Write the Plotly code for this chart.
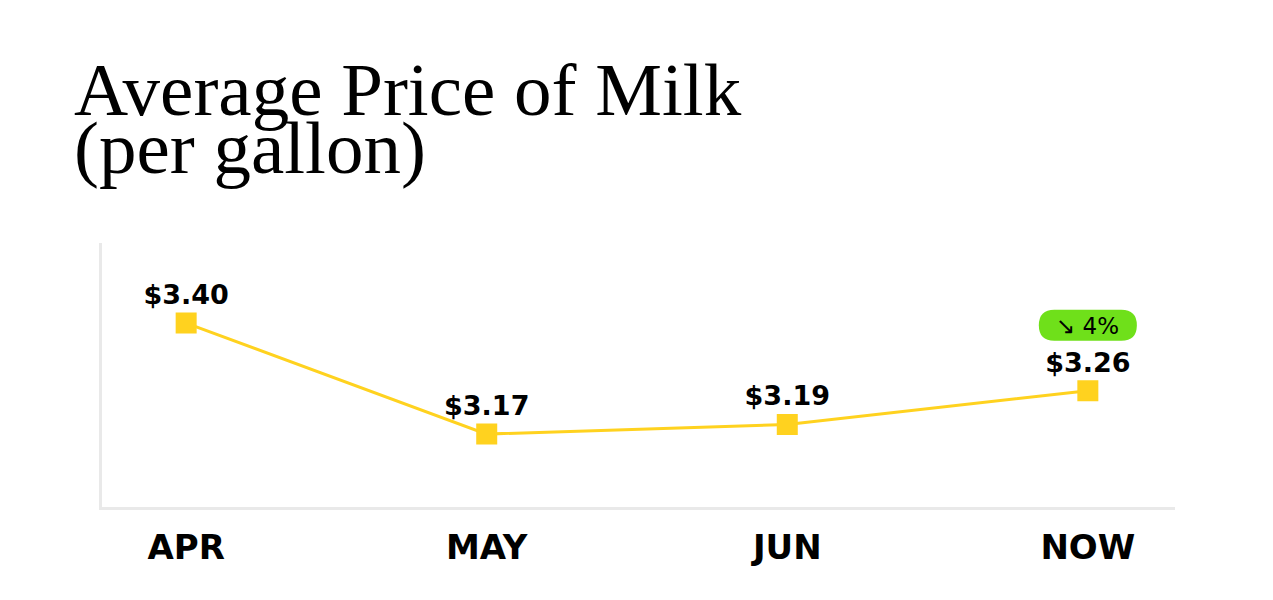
import plotly.graph_objects as go

# data
months = ["APR", "MAY", "JUN", "NOW"]
prices = [3.40, 3.17, 3.19, 3.26]
price_labels = ["$3.40", "$3.17", "$3.19", "$3.26"]
change_label = "↘ 4%"
title_lines = ["Average Price of Milk", "(per gallon)"]

LINE_COLOR = "#FFD21F"
AXIS_COLOR = "#E9E9E9"
BADGE_COLOR = "#6FE01A"
LABEL_FONT = "DejaVu Sans"
TITLE_FONT = "Liberation Serif"

fig = go.Figure()

fig.add_trace(go.Scatter(
    x=list(range(len(months))),
    y=prices,
    mode="lines+markers+text",
    line=dict(color=LINE_COLOR, width=3),
    marker=dict(symbol="square", size=18, color=LINE_COLOR,
                line=dict(color=LINE_COLOR, width=3)),
    text=["<b>%s</b>" % t for t in price_labels],
    textposition="top center",
    textfont=dict(family=LABEL_FONT, size=27, color="#000000"),
    hoverinfo="skip",
    cliponaxis=False,
))

# green pill badge above the last point
last_x = len(months) - 1
last_y = prices[-1]
w, r = 49, 15.5
top, bot = 81, 50
pill = ("M %f,%f L %f,%f Q %f,%f %f,%f L %f,%f Q %f,%f %f,%f L %f,%f "
        "Q %f,%f %f,%f L %f,%f Q %f,%f %f,%f Z") % (
    -w + r, bot, w - r, bot,
    w, bot, w, bot + r,
    w, top - r,
    w, top, w - r, top,
    -w + r, top,
    -w, top, -w, top - r,
    -w, bot + r,
    -w, bot, -w + r, bot,
)
fig.add_shape(type="path", path=pill, xref="x", yref="y",
              xsizemode="pixel", ysizemode="pixel",
              xanchor=last_x, yanchor=last_y,
              fillcolor=BADGE_COLOR, line=dict(width=0), layer="above")
fig.add_annotation(x=last_x, y=last_y, text=change_label, showarrow=False,
                   yshift=65, font=dict(family=LABEL_FONT, size=23, color="#000000"))

# title as two annotations so the line spacing can be set
for line, ypos in zip(title_lines, [1.583, 1.36]):
    fig.add_annotation(text=line, xref="paper", yref="paper",
                       x=-0.0275, y=ypos, xanchor="left", yanchor="middle",
                       showarrow=False,
                       font=dict(family=TITLE_FONT, size=75, color="#000000"))

fig.update_layout(
    width=1273, height=600,
    paper_bgcolor="white", plot_bgcolor="white",
    margin=dict(l=102, r=98, t=243, b=93),
    showlegend=False,
)
fig.update_xaxes(
    tickmode="array", tickvals=list(range(len(months))),
    ticktext=["<b>%s</b>" % m for m in months],
    range=[-0.28, 3.29],
    showgrid=False, zeroline=False,
    showline=True, linecolor=AXIS_COLOR, linewidth=3,
    ticks="", ticklabelstandoff=8,
    tickfont=dict(family=LABEL_FONT, size=34, color="#000000"),
)
fig.update_yaxes(
    range=[3.019, 3.566],
    showgrid=False, zeroline=False,
    showline=True, linecolor=AXIS_COLOR, linewidth=3,
    showticklabels=False, ticks="",
)

fig.write_html("out.html", config={"displayModeBar": False},
               post_script="document.body.style.margin='0';")
